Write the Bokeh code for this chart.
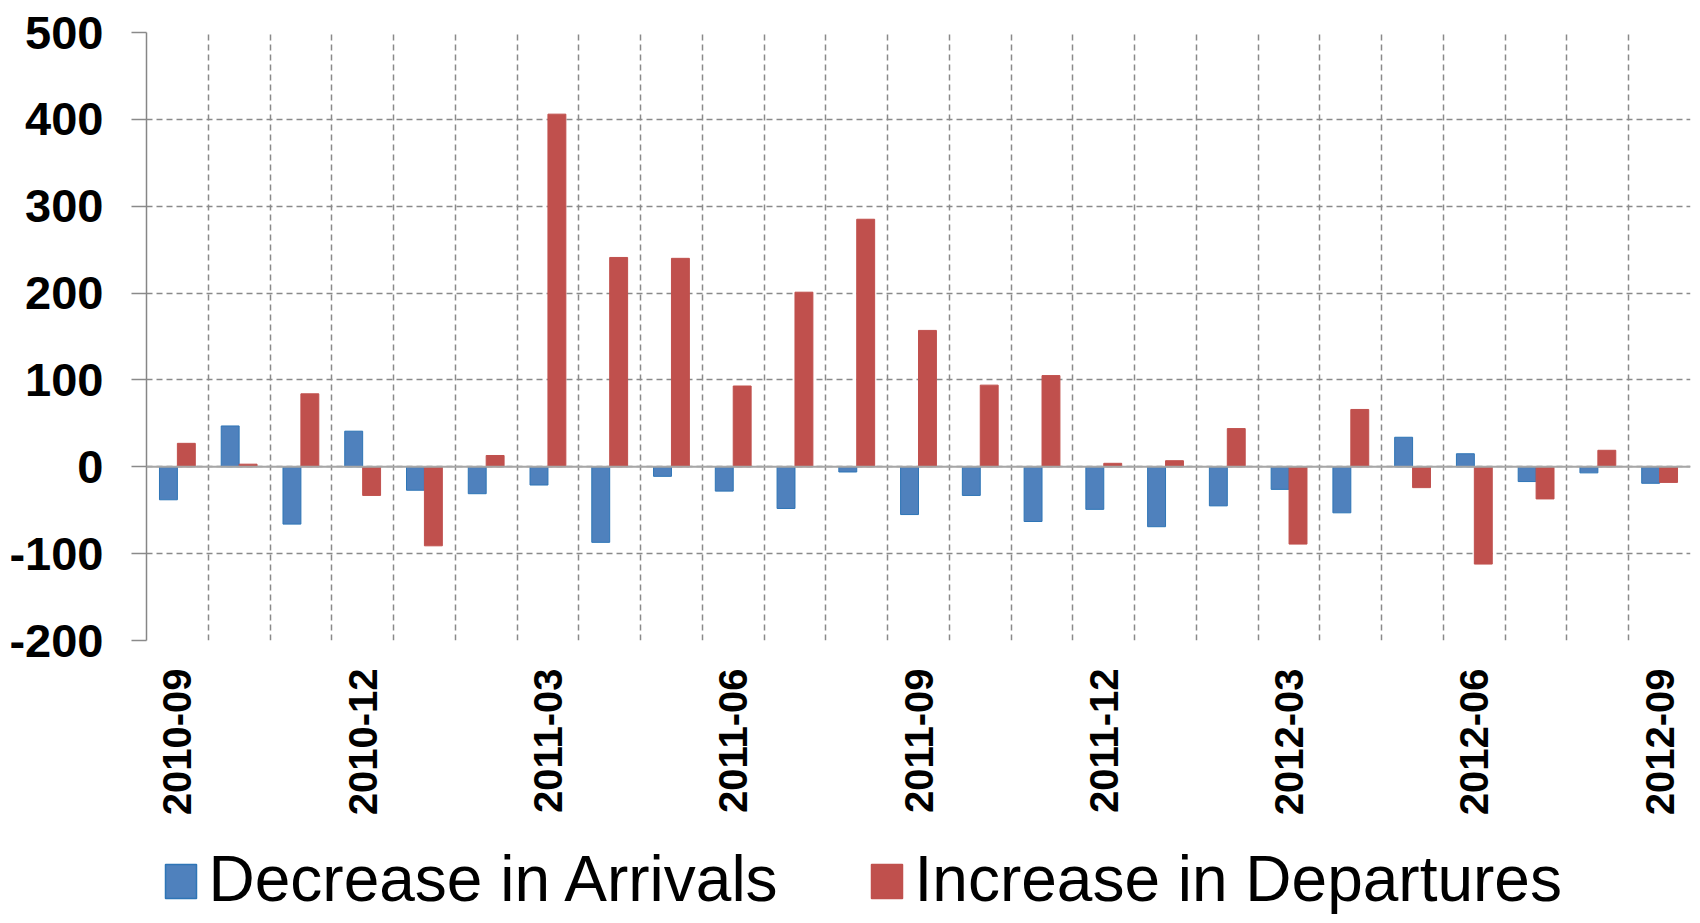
import math
from bokeh.plotting import figure
from bokeh.layouts import column
from bokeh.models import ColumnDataSource, FixedTicker, Span
from bokeh.core.properties import value
from bokeh.transform import dodge
from bokeh.embed import file_html
from bokeh.resources import INLINE

months = ["2010-09", "2010-10", "2010-11", "2010-12", "2011-01", "2011-02", "2011-03",
          "2011-04", "2011-05", "2011-06", "2011-07", "2011-08", "2011-09", "2011-10",
          "2011-11", "2011-12", "2012-01", "2012-02", "2012-03", "2012-04", "2012-05",
          "2012-06", "2012-07", "2012-08", "2012-09"]
arrivals = [-38, 47, -66, 41, -27, -31, -21, -87, -11, -28, -48, -6, -55, -33,
            -63, -49, -69, -45, -26, -53, 34, 15, -17, -7, -19]
departures = [27, 3, 84, -33, -91, 13, 406, 241, 240, 93, 201, 285, 157, 94,
              105, 4, 7, 44, -89, 66, -24, -112, -37, 19, -18]
y_ticks = [-200, -100, 0, 100, 200, 300, 400, 500]
series_names = ["Decrease in Arrivals", "Increase in Departures"]

FONT = "Liberation Sans"
GRID = "#8a8a8a"
BLUE, BLUE_EDGE = "#4F81BD", "#2E75B6"
RED, RED_EDGE = "#C0504D", "#C0504D"

W = 1692
FRAME_L, FRAME_R = 146, 1690

pos = [i + 0.5 for i in range(len(months))]
src = ColumnDataSource(dict(x=pos, month=months, arr=arrivals, dep=departures))

p = figure(width=W, height=835,
           x_range=(0, len(months)), y_range=(y_ticks[0], y_ticks[-1]),
           output_backend="svg", toolbar_location=None,
           min_border_left=FRAME_L, min_border_top=32, min_border_right=W - FRAME_R,
           min_border_bottom=195)
p.outline_line_color = None

p.vbar(x=dodge("x", -0.145, range=p.x_range), top="arr", bottom=0, width=0.29,
       source=src, fill_color=BLUE, line_color=BLUE_EDGE, line_width=1)
p.vbar(x=dodge("x", 0.145, range=p.x_range), top="dep", bottom=0, width=0.29,
       source=src, fill_color=RED, line_color=RED_EDGE, line_width=1)

p.add_layout(Span(location=0, dimension="width", line_color="#a6a6a6", line_width=2))

# grids
p.xgrid.ticker = FixedTicker(ticks=list(range(0, len(months) + 1)))
p.ygrid.ticker = FixedTicker(ticks=y_ticks)
for g in (p.xgrid, p.ygrid):
    g.grid_line_color = GRID
    g.grid_line_dash = "6 4"
    g.grid_line_width = 1.5

# y axis
ya = p.yaxis[0]
ya.ticker = FixedTicker(ticks=y_ticks)
ya.major_label_overrides = {t: str(t) for t in y_ticks}
ya.axis_line_color = "#868686"
ya.axis_line_width = 1.5
ya.major_tick_out = 15
ya.major_tick_in = 0
ya.major_tick_line_color = GRID
ya.major_tick_line_width = 1.5
ya.minor_tick_line_color = None
ya.major_label_standoff = 28
ya.major_label_text_font = FONT
ya.major_label_text_font_size = "47px"
ya.major_label_text_font_style = "bold"
ya.major_label_text_color = "black"

# x axis
label_idx = list(range(0, len(months), 3))
xa = p.xaxis[0]
xa.ticker = FixedTicker(ticks=[pos[i] for i in label_idx])
xa.major_label_overrides = {pos[i]: months[i] for i in label_idx}
xa.axis_line_color = None
xa.major_tick_line_color = None
xa.minor_tick_line_color = None
xa.major_label_orientation = math.pi / 2
xa.major_label_standoff = 22
xa.major_label_text_font = FONT
xa.major_label_text_font_size = "40px"
xa.major_label_text_font_style = "bold"
xa.major_label_text_color = "black"

# legend strip below the chart; its frame is aligned with the chart frame,
# so the x range is expressed in page pixels
LH = 80
lg = figure(width=W, height=LH, x_range=(FRAME_L, FRAME_R), y_range=(0, LH),
            output_backend="svg", toolbar_location=None,
            min_border_left=FRAME_L, min_border_right=W - FRAME_R,
            min_border_top=0, min_border_bottom=0)
lg.axis.visible = False
lg.grid.visible = False
lg.outline_line_color = None

sw_x = [180.5, 886.5]          # swatch centres
sw_w, sw_h, sw_y = 31, 34, 34
txt_gap = 27.5
txt_y = 37
lg.rect(x=sw_x, y=[sw_y] * 2, width=sw_w, height=sw_h,
        fill_color=[BLUE, RED], line_color=[BLUE_EDGE, RED_EDGE], line_width=1.5)
lg.text(x=[x + txt_gap for x in sw_x], y=[txt_y] * 2, text=series_names,
        text_font=value(FONT), text_font_size="64px", text_color="black",
        text_baseline="middle", text_align="left")

layout = column(p, lg, spacing=0)
open("out.html", "w").write(file_html(layout, INLINE))
